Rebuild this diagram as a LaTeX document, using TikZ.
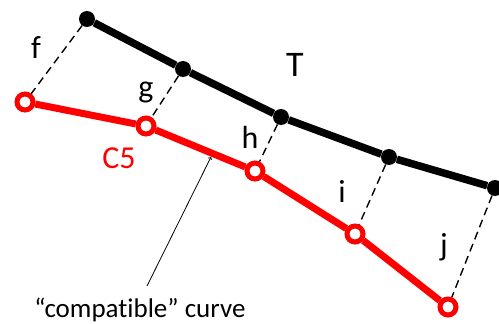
\documentclass[tikz,border=0pt]{standalone}
\usepackage{fontspec}
\setmainfont{Carlito}[Ligatures={TeX,NoCommon}]
\begin{document}
\begin{tikzpicture}[>=to,x=1pt,y=-1pt,
    tpt/.style={circle,fill=black,inner sep=0pt,minimum size=16pt},
    rpt/.style={circle,draw=red,fill=white,line width=5pt,inner sep=0pt,minimum size=16pt},
    lbl/.style={font=\fontsize{32}{36}\selectfont,anchor=base,inner sep=0pt},
    link/.style={line width=1.4pt,dash pattern=on 8pt off 5pt}]
    \useasboundingbox (0,0) rectangle (499,324);

    % 1) Points of the target curve T
    \node[tpt] (t1) at (87,19) {};
    \node[tpt] (t2) at (183,69) {};
    \node[tpt] (t3) at (281,117) {};
    \node[tpt] (t4) at (389,157) {};
    \node[tpt] (t5) at (495,188) {};

    % 2) Points of the red curve C5
    \node[rpt] (r1) at (25,102) {};
    \node[rpt] (r2) at (146,126) {};
    \node[rpt] (r3) at (255,171) {};
    \node[rpt] (r4) at (355,234) {};
    \node[rpt] (r5) at (448,307) {};

    % 3) The two polylines
    \draw[line width=7.5pt] (t1) -- (t2) -- (t3) -- (t4) -- (t5);
    \draw[red,line width=7pt] (r1) -- (r2) -- (r3) -- (r4) -- (r5);

    % 4) Dashed correspondences and their letters
    \draw[link] (t1) -- (r1);
    \draw[link] (t2) -- (r2);
    \draw[link] (t3) -- (r3);
    \draw[link] (t4) -- (r4);
    \draw[link] (t5) -- (r5);
    \node[lbl] (f) at (36,58) {f};
    \node[lbl] (g) at (146,97) {g};
    \node[lbl] (h) at (250,148) {h};
    \node[lbl] (i) at (342,202) {i};
    \node[lbl] (j) at (444,255) {j};

    % 5) Curve names
    \node[lbl,font=\fontsize{36}{40}\selectfont] (T) at (295,76) {T};
    \node[lbl,red] (C5) at (119,168) {C5};

    % 6) Pointer to the red curve
    \node[lbl,font=\fontsize{27}{30}\selectfont] (cc) at (140,317) {“compatible” curve};
    \coordinate (tail) at (147,286);
    \coordinate (tip) at (211,157);
    \draw[->,line width=0.8pt] (tail) -- (tip);
\end{tikzpicture}
\end{document}
